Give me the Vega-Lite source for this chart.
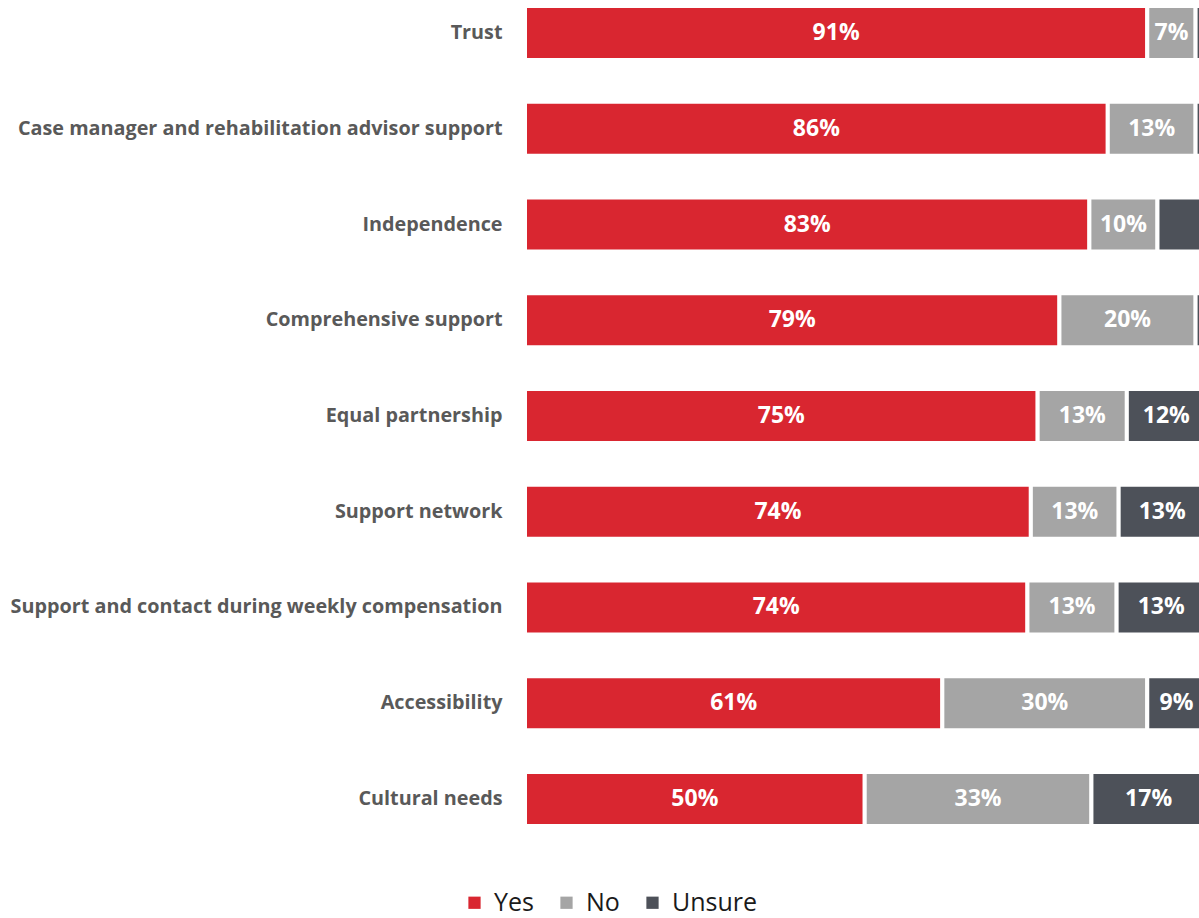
{
  "$schema": "https://vega.github.io/schema/vega-lite/v6.json",
  "width": 674,
  "height": 820,
  "autosize": "none",
  "padding": {"left": 525, "top": 6, "right": 0, "bottom": 92},
  "background": "white",
  "config": {"view": {"stroke": null}},
  "data": {"values": [
    {"item": "Trust", "resp": "Yes", "ord": 1, "value": 91.4, "label": "91%"},
    {"item": "Trust", "resp": "No", "ord": 2, "value": 7.1, "label": "7%"},
    {"item": "Trust", "resp": "Unsure", "ord": 3, "value": 1.5, "label": ""},
    {"item": "Case manager and rehabilitation advisor support", "resp": "Yes", "ord": 1, "value": 85.6, "label": "86%"},
    {"item": "Case manager and rehabilitation advisor support", "resp": "No", "ord": 2, "value": 12.9, "label": "13%"},
    {"item": "Case manager and rehabilitation advisor support", "resp": "Unsure", "ord": 3, "value": 1.5, "label": ""},
    {"item": "Independence", "resp": "Yes", "ord": 1, "value": 82.9, "label": "83%"},
    {"item": "Independence", "resp": "No", "ord": 2, "value": 10.0, "label": "10%"},
    {"item": "Independence", "resp": "Unsure", "ord": 3, "value": 7.1, "label": ""},
    {"item": "Comprehensive support", "resp": "Yes", "ord": 1, "value": 78.5, "label": "79%"},
    {"item": "Comprehensive support", "resp": "No", "ord": 2, "value": 20.0, "label": "20%"},
    {"item": "Comprehensive support", "resp": "Unsure", "ord": 3, "value": 1.5, "label": ""},
    {"item": "Equal partnership", "resp": "Yes", "ord": 1, "value": 75.3, "label": "75%"},
    {"item": "Equal partnership", "resp": "No", "ord": 2, "value": 13.1, "label": "13%"},
    {"item": "Equal partnership", "resp": "Unsure", "ord": 3, "value": 11.6, "label": "12%"},
    {"item": "Support network", "resp": "Yes", "ord": 1, "value": 74.3, "label": "74%"},
    {"item": "Support network", "resp": "No", "ord": 2, "value": 12.9, "label": "13%"},
    {"item": "Support network", "resp": "Unsure", "ord": 3, "value": 12.8, "label": "13%"},
    {"item": "Support and contact during weekly compensation", "resp": "Yes", "ord": 1, "value": 73.8, "label": "74%"},
    {"item": "Support and contact during weekly compensation", "resp": "No", "ord": 2, "value": 13.1, "label": "13%"},
    {"item": "Support and contact during weekly compensation", "resp": "Unsure", "ord": 3, "value": 13.1, "label": "13%"},
    {"item": "Accessibility", "resp": "Yes", "ord": 1, "value": 61.3, "label": "61%"},
    {"item": "Accessibility", "resp": "No", "ord": 2, "value": 30.1, "label": "30%"},
    {"item": "Accessibility", "resp": "Unsure", "ord": 3, "value": 8.6, "label": "9%"},
    {"item": "Cultural needs", "resp": "Yes", "ord": 1, "value": 49.9, "label": "50%"},
    {"item": "Cultural needs", "resp": "No", "ord": 2, "value": 33.3, "label": "33%"},
    {"item": "Cultural needs", "resp": "Unsure", "ord": 3, "value": 16.8, "label": "17%"}
  ]},
  "transform": [
    {"stack": "value", "groupby": ["item"], "sort": [{"field": "ord", "order": "ascending"}], "as": ["v0", "v1"]},
    {"calculate": "(datum.v0 + datum.v1) / 2", "as": "mid"}
  ],
  "encoding": {
    "y": {
      "field": "item", "type": "nominal", "sort": null,
      "scale": {"paddingInner": 0.436, "paddingOuter": 0},
      "axis": {
        "title": null, "domain": false, "ticks": false, "grid": false,
        "labelPadding": 23, "labelFont": "Open Sans", "labelFontWeight": "bold",
        "labelFontSize": 19.8, "labelColor": "#595959", "labelLimit": 600
      }
    }
  },
  "layer": [
    {
      "mark": {"type": "bar", "stroke": "white", "strokeWidth": 4, "clip": true},
      "encoding": {
        "x": {"field": "v0", "type": "quantitative", "scale": {"domain": [0, 99], "nice": false, "zero": true}, "axis": null},
        "x2": {"field": "v1"},
        "color": {
          "field": "resp", "type": "nominal",
          "scale": {"domain": ["Yes", "No", "Unsure"], "range": ["#D92630", "#A5A5A5", "#4D5159"]},
          "legend": {
            "title": null, "orient": "none", "direction": "horizontal",
            "legendX": -63, "legendY": 884,
            "symbolType": "square", "symbolSize": 150, "symbolStrokeWidth": 0,
            "labelFont": "Open Sans", "labelFontSize": 25, "labelColor": "#1a1a1a",
            "labelOffset": 7, "columnPadding": 20
          }
        }
      }
    },
    {
      "transform": [{"filter": "datum.label != ''"}],
      "mark": {"type": "text", "color": "white", "font": "Open Sans", "fontWeight": "bold", "fontSize": 23, "align": "center", "baseline": "middle"},
      "encoding": {
        "x": {"field": "mid", "type": "quantitative"},
        "text": {"field": "label"}
      }
    }
  ]
}
